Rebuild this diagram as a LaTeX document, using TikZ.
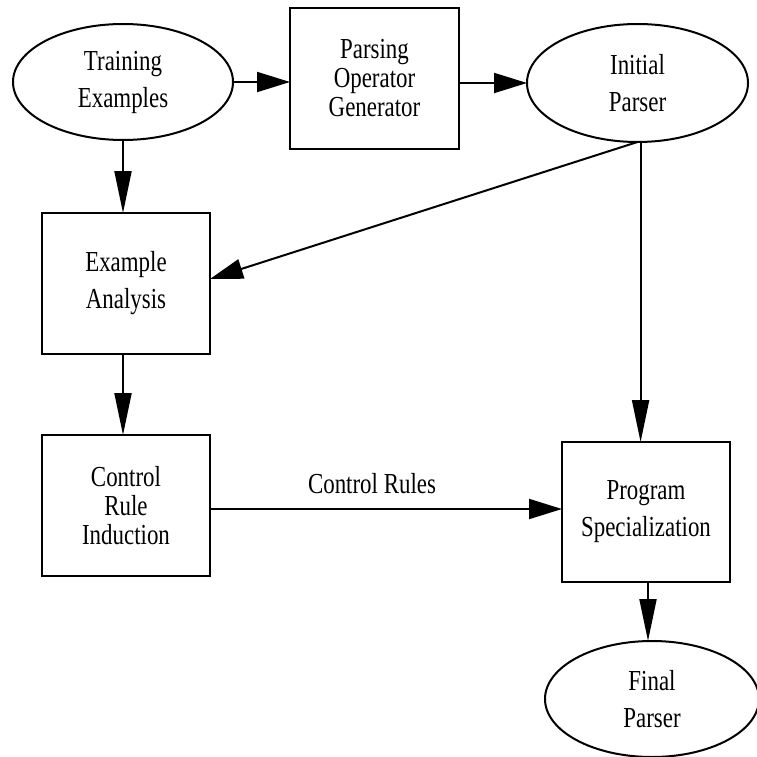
\documentclass[tikz,border=0pt]{standalone}
\usepackage{fontspec}
\setmainfont[FakeStretch=0.79]{Liberation Serif}
\usetikzlibrary{shapes.geometric,arrows.meta}
\begin{document}
\begin{tikzpicture}[x=1pt,y=-1pt,
  every node/.style={inner sep=0pt,outer sep=0pt,align=center},
  oval/.style={draw,line width=2pt,ellipse,font=\fontsize{29}{37}\selectfont},
  boxtwo/.style={draw,line width=2pt,rectangle,font=\fontsize{29}{37}\selectfont},
  boxthree/.style={draw,line width=2pt,rectangle,font=\fontsize{29}{29}\selectfont},
  lbl/.style={font=\fontsize{29}{37}\selectfont},
  conn/.style={line width=2pt},
  vtip/.style={-{Triangle[length=42pt,width=17pt]}},
  htip/.style={-{Triangle[length=33pt,width=20pt]}},
  dtip/.style={-{Triangle[length=33pt,width=20pt]}}]
\useasboundingbox (0,0) rectangle (756,757);
\node[oval,minimum width=220pt,minimum height=116pt] (te) at (123,82) {Training\\Examples};
\node[boxthree,minimum width=169pt,minimum height=141pt] (pog) at (374.5,78.5) {Parsing\\Operator\\Generator};
\node[oval,minimum width=221pt,minimum height=118pt] (ip) at (637.5,83) {Initial\\Parser};
\node[boxtwo,minimum width=168pt,minimum height=141pt] (ea) at (126,283.5) {Example\\Analysis};
\node[boxthree,minimum width=168pt,minimum height=141pt] (cri) at (126,505.5) {Control\\Rule\\Induction};
\node[boxtwo,minimum width=168pt,minimum height=140pt] (ps) at (646,512) {Program\\Specialization};
\node[oval,minimum width=214pt,minimum height=116pt] (fp) at (652,699) {Final\\Parser};
\node[lbl] (lab) at (372,484) {Control Rules};
\draw[conn,htip] (te.east) -- (te.east -| pog.west);
\draw[conn,htip] (pog.east |- ip.west) -- (ip.west);
\draw[conn,vtip] (te.south) -- (te.south |- ea.north);
\draw[conn,dtip] (ip.south) -- ([yshift=4.5pt]ea.east);
\draw[conn,vtip] (ip.-87) -- (ip.-87 |- ps.north);
\draw[conn,vtip] ([xshift=-3pt]ea.south) -- ([xshift=-3pt]cri.north);
\draw[conn,htip] ([yshift=-3.5pt]cri.east) -- ([yshift=-3.5pt]cri.east -| ps.west);
\draw[conn,vtip] ([xshift=2pt]ps.south) -- ([xshift=2pt]ps.south |- fp.north);
\end{tikzpicture}
\end{document}
